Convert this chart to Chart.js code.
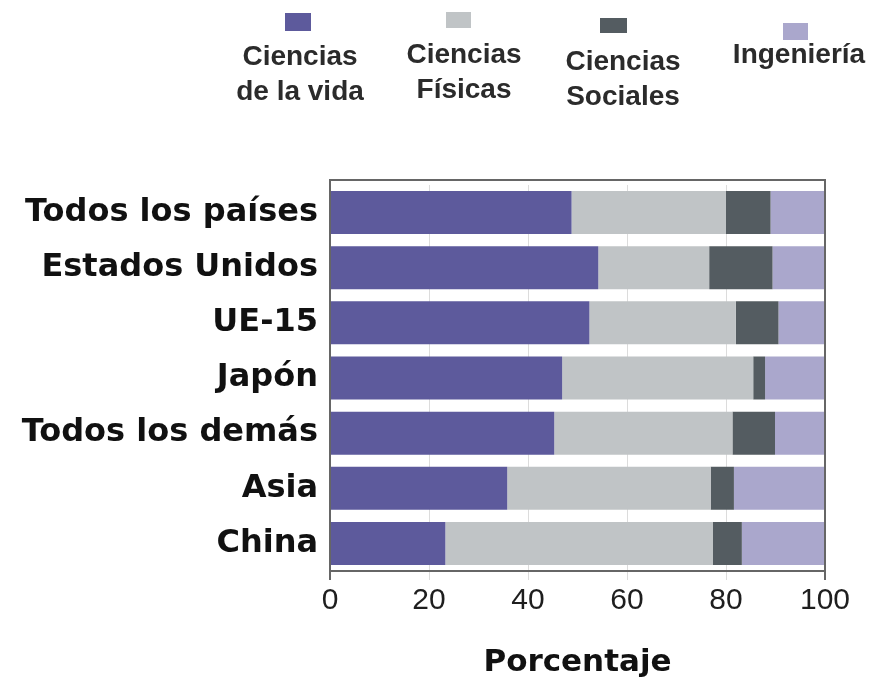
<!DOCTYPE html>
<html>
<head>
<meta charset="utf-8">
<script src="https://cdn.jsdelivr.net/npm/chart.js@4"></script>
<style>
	body { margin: 0; background: #fff; }
	.wrapper { position: relative; width: 874px; height: 691px; }
	#legend { position: absolute; left: 0; top: 0; width: 874px; height: 130px; }
	.item { position: absolute; font: bold 28px 'Liberation Sans', Arial, sans-serif; color: #2b2b2b; }
	.item .box { position: absolute; }
	.item .txt { position: absolute; white-space: pre; text-align: center; line-height: 35px; transform: translateX(-50%); }
</style>
</head>
<body>
<div class="wrapper">
	<canvas id="chart"></canvas>
	<div id="legend"></div>
</div>
<script>
// categories (rows, top to bottom)
const categories = ['Todos los países', 'Estados Unidos', 'UE-15', 'Japón', 'Todos los demás', 'Asia', 'China'];
// share of each field, percent
const cienciasVida = [48.8, 54.2, 52.4, 46.9, 45.3, 35.8, 23.3];
const cienciasFisicas = [31.2, 22.4, 29.6, 38.6, 36.0, 41.1, 54.0];
const cienciasSociales = [9.0, 12.8, 8.6, 2.4, 8.6, 4.7, 5.9];
const ingenieria = [11.0, 10.6, 9.4, 12.1, 10.1, 18.4, 16.8];
// legend names
const seriesNames = ['Ciencias\nde la vida', 'Ciencias\nFísicas', 'Ciencias\nSociales', 'Ingeniería'];
// x axis
const xTicks = [0, 20, 40, 60, 80, 100];
const xTitle = 'Porcentaje';

const colors = ['#5d5a9c', '#c0c4c6', '#545c61', '#aaa7cc'];

// legend item placement (centre x, box rect, text top)
const legendPos = [
	{ cx: 300, box: [285, 13, 26, 18], top: 38 },
	{ cx: 464, box: [446, 12, 25, 16], top: 36 },
	{ cx: 623, box: [600, 18, 27, 15], top: 43 },
	{ cx: 799, box: [783, 23, 25, 17], top: 36 },
];

//Frame around the plot, slightly taller than the bars area
const framePlugin = {
	id: 'frame',
	afterDraw(chart) {
		const { ctx, chartArea: a } = chart;
		ctx.save();
		ctx.strokeStyle = '#666';
		ctx.lineWidth = 2;
		ctx.strokeRect(a.left, a.top - 5, a.right - a.left, a.bottom - a.top + 5);
		ctx.restore();
	},
};

const chart = new Chart(document.getElementById('chart'), {
	type: 'bar',
	plugins: [framePlugin],
	data: {
		labels: categories,
		datasets: [cienciasVida, cienciasFisicas, cienciasSociales, ingenieria].map((d, i) => ({
			label: seriesNames[i],
			data: d,
			backgroundColor: colors[i],
			barPercentage: 0.78,
			categoryPercentage: 1,
		})),
	},
	options: {
		indexAxis: 'y',
		responsive: true,
		maintainAspectRatio: false,
		animation: false,
		layout: { padding: { top: 185, right: 49, left: 0, bottom: 0 } },
		plugins: {
			legend: { display: false },
			tooltip: { enabled: false },
		},
		scales: {
			x: {
				stacked: true,
				min: 0,
				max: 100,
				afterBuildTicks: (s) => { s.ticks = xTicks.map((v) => ({ value: v })); },
				afterFit: (s) => { s.height = 120; },
				ticks: {
					color: '#1e1e1e',
					padding: 3,
					font: { family: 'Liberation Sans', size: 30 },
				},
				grid: {
					color: (c) => (c.tick && (c.tick.value === 0 || c.tick.value === 100) ? '#666' : '#dcdcdc'),
					lineWidth: (c) => (c.tick && (c.tick.value === 0 || c.tick.value === 100) ? 2 : 1),
					tickLength: 9,
				},
				border: { display: true, color: '#555', width: 2 },
				title: {
					display: true,
					text: xTitle,
					color: '#111',
					padding: { top: 0, bottom: 9 },
					font: { family: 'DejaVu Sans', size: 31, weight: 'bold' },
				},
			},
			y: {
				stacked: true,
				afterFit: (s) => { s.width = 330; },
				ticks: {
					color: '#111',
					padding: 4,
					font: { family: 'DejaVu Sans', size: 32, weight: 'bold' },
				},
				grid: { display: false },
				border: { display: true, color: '#555', width: 2 },
			},
		},
	},
});

//HTML legend built from the datasets
const legend = document.getElementById('legend');
chart.data.datasets.forEach((ds, i) => {
	const p = legendPos[i];
	const item = document.createElement('div');
	item.className = 'item';
	const box = document.createElement('div');
	box.className = 'box';
	box.style.cssText = `left:${p.box[0]}px;top:${p.box[1]}px;width:${p.box[2]}px;height:${p.box[3]}px;background:${ds.backgroundColor}`;
	const txt = document.createElement('div');
	txt.className = 'txt';
	txt.style.left = p.cx + 'px';
	txt.style.top = p.top + 'px';
	txt.textContent = ds.label;
	item.appendChild(box);
	item.appendChild(txt);
	legend.appendChild(item);
});
</script>
</body>
</html>
